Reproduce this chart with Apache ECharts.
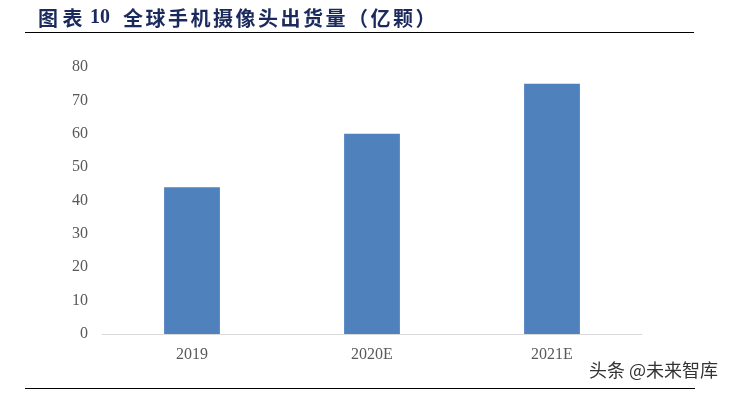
<!DOCTYPE html>
<html><head><meta charset="utf-8">
<script src="https://cdn.jsdelivr.net/npm/echarts@6/dist/echarts.min.js"></script>
<style>html,body{margin:0;padding:0;background:#fff}#c{width:729px;height:394px}</style>
</head><body><div id="c"></div>
<script>
const categories = ['2019', '2020E', '2021E'];
const shipments = [44, 60, 75];
const yTicks = { min: 0, max: 80, interval: 10 };
const titleLabel = '图表';
const titleNumber = '10';
const titleText = '全球手机摄像头出货量（亿颗）';
const watermark = '头条 @未来智库';

const titleFont = 'bold 20px "Noto Sans CJK SC"';
const titleColor = '#1b2a5c';
const graphics = [
  { type: 'line', shape: { x1: 25, y1: 32.5, x2: 694, y2: 32.5 }, style: { stroke: '#000', lineWidth: 1.2 } },
  { type: 'line', shape: { x1: 25, y1: 388.5, x2: 695, y2: 388.5 }, style: { stroke: '#000', lineWidth: 1.2 } },
  { type: 'text', right: 11, top: 361, style: { text: watermark, font: '18px "Noto Sans CJK SC"', fill: '#333' } },
  { type: 'text', x: 38, y: 18, style: { text: titleLabel.split('').join(' '), font: titleFont, fill: titleColor, verticalAlign: 'middle' } },
  { type: 'text', x: 90, y: 18, style: { text: titleNumber, font: 'bold 20px "Liberation Serif"', fill: titleColor, verticalAlign: 'middle' } }
];
titleText.split('').forEach((ch, i) => {
  graphics.push({ type: 'text', x: 123 + i * 22.5, y: 18,
    style: { text: ch, font: titleFont, fill: titleColor, verticalAlign: 'middle' } });
});

const chart = echarts.init(document.getElementById('c'));
chart.setOption({
  animation: false,
  backgroundColor: '#fff',
  graphic: graphics,
  grid: { left: 102, right: 87, top: 67, bottom: 60 },
  xAxis: {
    type: 'category', data: categories,
    axisLine: { lineStyle: { color: '#d9d9d9', width: 1 } },
    axisTick: { show: false },
    axisLabel: { margin: 13, fontFamily: 'Liberation Serif', fontSize: 16, color: '#595959' }
  },
  yAxis: {
    type: 'value', min: yTicks.min, max: yTicks.max, interval: yTicks.interval,
    axisLine: { show: false }, axisTick: { show: false }, splitLine: { show: false },
    axisLabel: { margin: 14, fontFamily: 'Liberation Serif', fontSize: 16, color: '#595959' }
  },
  series: [{
    type: 'bar', data: shipments, barWidth: '31%',
    itemStyle: { color: '#4f81bd' }
  }]
});
</script></body></html>
